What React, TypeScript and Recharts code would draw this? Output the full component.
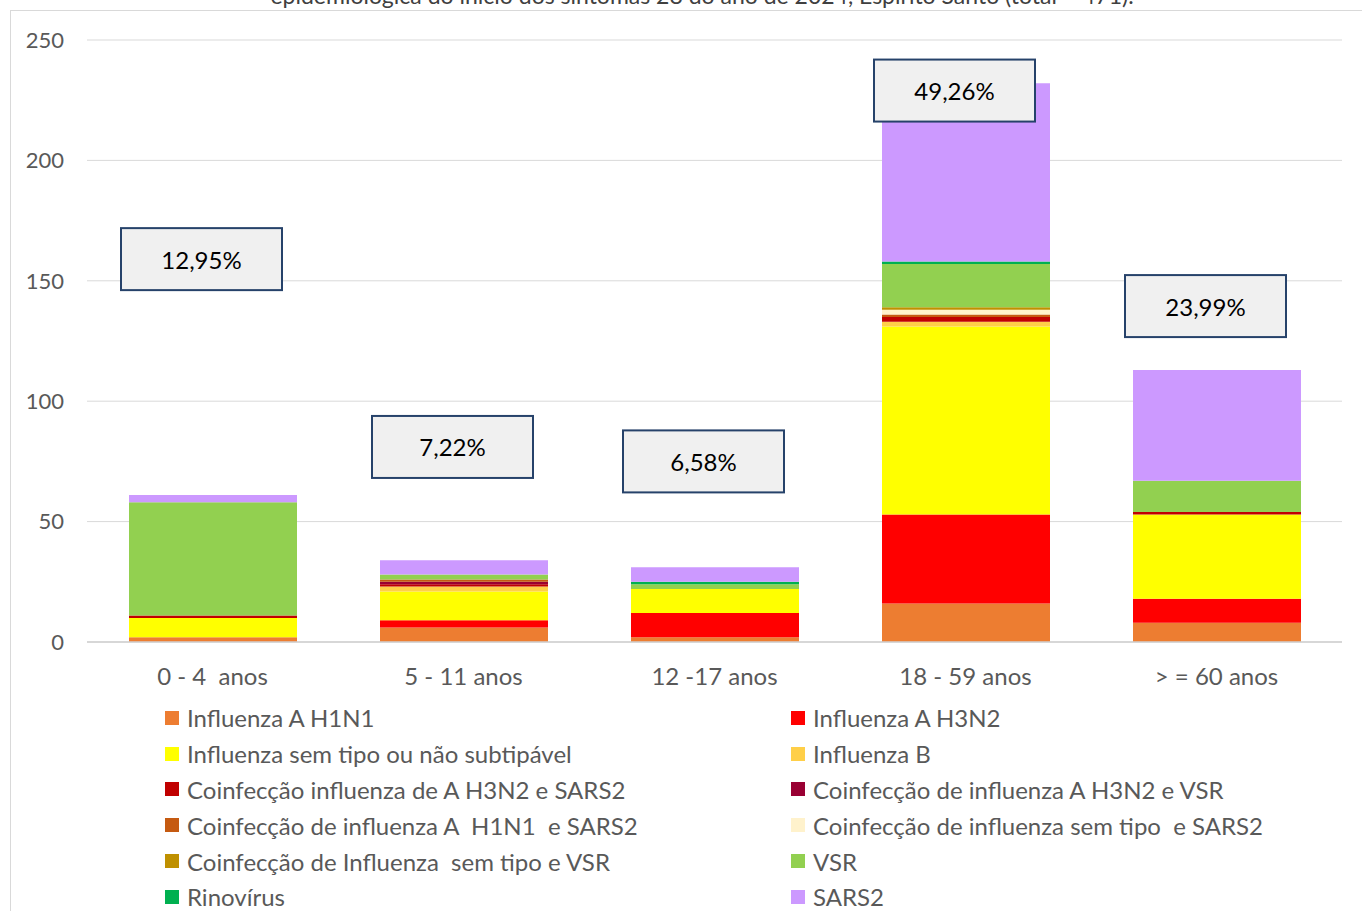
import { ComposedChart, Bar, XAxis, YAxis, CartesianGrid, Legend, ReferenceDot } from "recharts";

const categories = ["0 - 4  anos", "5 - 11 anos", "12 -17 anos", "18 - 59 anos", "> = 60 anos"];

// casos por faixa etária (empilhados de baixo para cima, na ordem da legenda)
const h1n1 = [2, 6, 2, 16, 8];
const h3n2 = [0, 3, 10, 37, 10];
const semTipo = [8, 12, 10, 78, 35];
const fluB = [0, 2, 0, 2, 0];
const coH3n2Sars = [1, 1, 0, 2, 1];
const coH3n2Vsr = [0, 1, 0, 0, 0];
const coH1n1Sars = [0, 1, 0, 1, 0];
const coSemTipoSars = [0, 0, 0, 2, 0];
const coSemTipoVsr = [0, 0, 0, 1, 0];
const vsr = [47, 2, 2, 18, 13];
const rino = [0, 0, 1, 1, 0];
const sars2 = [3, 6, 6, 74, 46];

const percentLabels = ["12,95%", "7,22%", "6,58%", "49,26%", "23,99%"];
const labelY = [159, 81, 75, 229, 139.5];

const yTicks = [0, 50, 100, 150, 200, 250];

const series = [
  { key: "h1n1", name: "Influenza A H1N1", color: "#ED7D31", values: h1n1 },
  { key: "h3n2", name: "Influenza A H3N2", color: "#FF0000", values: h3n2 },
  { key: "semTipo", name: "Influenza sem tipo ou não subtipável", color: "#FFFF00", values: semTipo },
  { key: "fluB", name: "Influenza B", color: "#FFCF48", values: fluB },
  { key: "coH3n2Sars", name: "Coinfecção influenza de A H3N2 e SARS2", color: "#C00000", values: coH3n2Sars },
  { key: "coH3n2Vsr", name: "Coinfecção de influenza A H3N2 e VSR", color: "#990033", values: coH3n2Vsr },
  { key: "coH1n1Sars", name: "Coinfecção de influenza A  H1N1  e SARS2", color: "#C55A11", values: coH1n1Sars },
  { key: "coSemTipoSars", name: "Coinfecção de influenza sem tipo  e SARS2", color: "#FFF2CC", values: coSemTipoSars },
  { key: "coSemTipoVsr", name: "Coinfecção de Influenza  sem tipo e VSR", color: "#BF9000", values: coSemTipoVsr },
  { key: "vsr", name: "VSR", color: "#92D050", values: vsr },
  { key: "rino", name: "Rinovírus", color: "#00B050", values: rino },
  { key: "sars2", name: "SARS2", color: "#CC99FF", values: sars2 },
];

const data = categories.map((cat, i) => {
  const row: Record<string, string | number> = { cat };
  series.forEach((s) => {
    row[s.key] = s.values[i];
  });
  return row;
});

const renderLegend = () => (
  <div style={{ display: "grid", gridTemplateColumns: "626px 560px" }}>
    {series.map((s) => (
      <div key={s.key} style={{ display: "flex", alignItems: "center", height: 35.8 }}>
        <span style={{ width: 14, height: 14, background: s.color, marginRight: 8, flexShrink: 0 }} />
        <span style={{ fontSize: 24, color: "#595959", whiteSpace: "pre" }}>{s.name}</span>
      </div>
    ))}
  </div>
);

const CatTick = (props: any) => {
  const { x, y, payload } = props;
  return (
    <text x={x} y={y} dy={16} textAnchor="middle" fontSize={24} fill="#595959" xmlSpace="preserve" style={{ whiteSpace: "pre" }}>
      {payload.value}
    </text>
  );
};

const PercentBox = (props: any) => {
  const { cx, cy, label } = props;
  const bx = cx - 11;
  return (
    <g>
      <rect x={bx - 80.5} y={cy - 31} width={161} height={62} fill="#F0F0F0" stroke="#26426A" strokeWidth={2} />
      <text x={bx} y={cy} textAnchor="middle" dominantBaseline="central" fontSize={24} fill="#000">
        {label}
      </text>
    </g>
  );
};

export default function App() {
  return (
    <div
      style={{
        position: "absolute",
        left: 0,
        top: 0,
        width: 1362,
        height: 911,
        overflow: "hidden",
        background: "#fff",
        fontFamily: "Lato, 'Open Sans', sans-serif",
      }}
    >
      <div
        style={{
          position: "absolute",
          top: -16,
          left: 0,
          width: 1362,
          textAlign: "center",
          fontSize: 23,
          lineHeight: "22px",
          color: "#404040",
          paddingLeft: 42,
          boxSizing: "border-box",
        }}
      >
        epidemiológica do início dos sintomas 28 do ano de 2024, Espírito Santo (total = 471).
      </div>
      <div
        style={{
          position: "absolute",
          left: 10,
          top: 10,
          width: 1400,
          height: 1000,
          border: "1.5px solid #D9D9D9",
        }}
      />
      <div style={{ position: "absolute", left: 0, top: 0 }}>
        <ComposedChart width={1362} height={911} data={data} margin={{ top: 40, right: 20, left: 0, bottom: 219 }}>
          <CartesianGrid vertical={false} stroke="#D9D9D9" />
          <XAxis
            dataKey="cat"
            height={50}
            tickLine={false}
            tickSize={0}
            tickMargin={27}
            axisLine={{ stroke: "#D0D0D0", strokeWidth: 1.5 }}
            tick={<CatTick />}
          />
          <YAxis
            width={87}
            domain={[0, 250]}
            ticks={yTicks}
            axisLine={false}
            tickLine={false}
            tickSize={0}
            tickMargin={23}
            tick={{ fontSize: 22, fill: "#595959" }}
          />
          {series.map((s) => (
            <Bar key={s.key} dataKey={s.key} name={s.name} stackId="a" fill={s.color} barSize={168} isAnimationActive={false} />
          ))}
          {categories.map((cat, i) => (
            <ReferenceDot
              key={cat}
              x={cat}
              y={labelY[i]}
              ifOverflow="visible"
              shape={(p: any) => <PercentBox {...p} label={percentLabels[i]} />}
            />
          ))}
          <Legend
            layout="horizontal"
            verticalAlign="middle"
            align="center"
            content={renderLegend}
            wrapperStyle={{ top: 700, left: 165, width: 1190 }}
          />
        </ComposedChart>
      </div>
    </div>
  );
}
